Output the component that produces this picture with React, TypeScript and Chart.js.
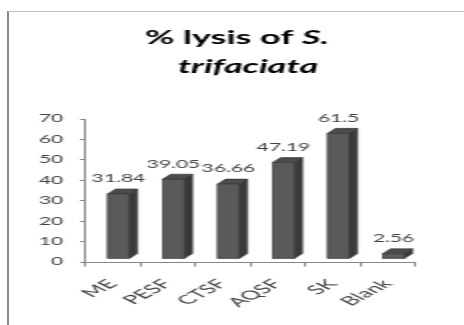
import React, { useEffect, useRef } from "react";
import { Chart, registerables } from "chart.js";

Chart.register(...registerables);

// ---- data ----
const categories = ["ME", "PESF", "CTSF", "AQSF", "SK", "Blank"];
const lysisPercent = [31.84, 39.05, 36.66, 47.19, 61.5, 2.56];
const yMin = 0;
const yMax = 70;
const yStep = 10;
const titlePlain = "% lysis of ";
const titleItalic = "S.";
const titleSecondLine = "trifaciata";

// ---- look ----
// The chart is laid out in a narrow canvas and widened with a CSS scaleX.
const STRETCH = 2;
const CANVAS_W = 232;
const CANVAS_H = 325;
const FONT = "Lato";
const TEXT = "#404040";
const AXIS = "#868686";
const FRONT = "#5a5a5a";
const SIDE = "#3a3a3a";
const TOP = "#4c4c4c";
const EDGE = "#333333";
const DEPTH_X = 4;
const DEPTH_Y = 5;
const SHIFT_X = 3;
const LIFT = 3;

const bars3d = {
  id: "bars3d",
  afterDatasetsDraw(chart: any) {
    const ctx = chart.ctx as CanvasRenderingContext2D;
    const meta = chart.getDatasetMeta(0);
    const values = chart.data.datasets[0].data as number[];
    ctx.save();
    meta.data.forEach((bar: any, i: number) => {
      const { x, y, base, width } = bar.getProps(["x", "y", "base", "width"], true);
      const cx = x + SHIFT_X;
      const l = cx - width / 2;
      const r = cx + width / 2;
      const t = y - LIFT;
      const b = base - LIFT;
      ctx.lineWidth = 0.6;
      ctx.strokeStyle = EDGE;
      // side face
      ctx.beginPath();
      ctx.moveTo(r, t);
      ctx.lineTo(r + DEPTH_X, t - DEPTH_Y);
      ctx.lineTo(r + DEPTH_X, b - DEPTH_Y);
      ctx.lineTo(r, b);
      ctx.closePath();
      ctx.fillStyle = SIDE;
      ctx.fill();
      ctx.stroke();
      // top face
      ctx.beginPath();
      ctx.moveTo(l, t);
      ctx.lineTo(l + DEPTH_X, t - DEPTH_Y);
      ctx.lineTo(r + DEPTH_X, t - DEPTH_Y);
      ctx.lineTo(r, t);
      ctx.closePath();
      ctx.fillStyle = TOP;
      ctx.fill();
      ctx.stroke();
      // front face
      ctx.fillStyle = FRONT;
      ctx.fillRect(l, t, width, b - t);
      ctx.strokeRect(l, t, width, b - t);
      // value label
      ctx.fillStyle = TEXT;
      ctx.font = `10.5px ${FONT}`;
      ctx.textAlign = "center";
      ctx.textBaseline = "middle";
      ctx.fillText(String(values[i]), cx, t - 15);
    });
    ctx.restore();
  },
};

const titlePlugin = {
  id: "mixedTitle",
  afterDraw(chart: any) {
    const ctx = chart.ctx as CanvasRenderingContext2D;
    ctx.save();
    ctx.fillStyle = "#000000";
    ctx.textBaseline = "alphabetic";
    ctx.textAlign = "left";
    const plainFont = `bold 18px ${FONT}`;
    const italicFont = `italic bold 18px ${FONT}`;
    ctx.font = plainFont;
    const w1 = ctx.measureText(titlePlain).width;
    ctx.font = italicFont;
    const w2 = ctx.measureText(titleItalic).width;
    const x = 118.5 - (w1 + w2) / 2;
    ctx.font = plainFont;
    ctx.fillText(titlePlain, x, 44);
    ctx.font = italicFont;
    ctx.fillText(titleItalic, x + w1, 44);
    ctx.textAlign = "center";
    ctx.fillText(titleSecondLine, 124, 73);
    ctx.restore();
  },
};

export default function App() {
  const canvasRef = useRef<HTMLCanvasElement | null>(null);

  useEffect(() => {
    if (!canvasRef.current) return;
    const chart = new Chart(canvasRef.current, {
      type: "bar",
      data: {
        labels: categories,
        datasets: [
          {
            data: lysisPercent,
            backgroundColor: "rgba(0,0,0,0)",
            borderWidth: 0,
            barPercentage: 0.395,
            categoryPercentage: 1,
          },
        ],
      },
      options: {
        responsive: false,
        devicePixelRatio: 1,
        animation: false,
        layout: { padding: { top: 119, right: 24.5, bottom: 0, left: 0 } },
        plugins: {
          legend: { display: false },
          title: { display: false },
          tooltip: { enabled: false },
        },
        scales: {
          x: {
            grid: {
              display: true,
              drawOnChartArea: false,
              drawTicks: true,
              tickLength: 4.5,
              color: AXIS,
              offset: true,
            },
            border: { display: true, color: AXIS, width: 1 },
            ticks: {
              autoSkip: false,
              minRotation: 46,
              maxRotation: 46,
              padding: 10,
              color: TEXT,
              font: { family: FONT, size: 12.5 },
            },
            afterFit: (s: any) => {
              s.height = CANVAS_H - 262;
            },
          },
          y: {
            min: yMin,
            max: yMax,
            ticks: {
              stepSize: yStep,
              padding: 8.3,
              color: TEXT,
              font: { family: FONT, size: 10.5 },
            },
            grid: { drawOnChartArea: false, drawTicks: true, tickLength: 2.5, color: AXIS },
            border: { display: true, color: AXIS, width: 1 },
            afterFit: (s: any) => {
              s.width = 42.5;
            },
          },
        },
      },
      plugins: [bars3d, titlePlugin],
    });
    return () => chart.destroy();
  }, []);

  return (
    <div
      style={{
        position: "fixed",
        left: 0,
        top: 0,
        width: 464,
        height: 325,
        overflow: "hidden",
        background: "#ffffff",
      }}
    >
      <div
        style={{
          position: "absolute",
          left: 7,
          top: 11,
          width: 464,
          height: 325,
          borderLeft: "2px solid #8a8a8a",
          borderTop: "1px solid #c4c4c4",
          boxSizing: "border-box",
        }}
      />
      <div
        style={{
          position: "absolute",
          left: 0,
          top: 0,
          width: CANVAS_W,
          height: CANVAS_H,
          transform: `scaleX(${STRETCH})`,
          transformOrigin: "0 0",
        }}
      >
        <canvas ref={canvasRef} width={CANVAS_W} height={CANVAS_H} style={{ display: "block" }} />
      </div>
    </div>
  );
}
